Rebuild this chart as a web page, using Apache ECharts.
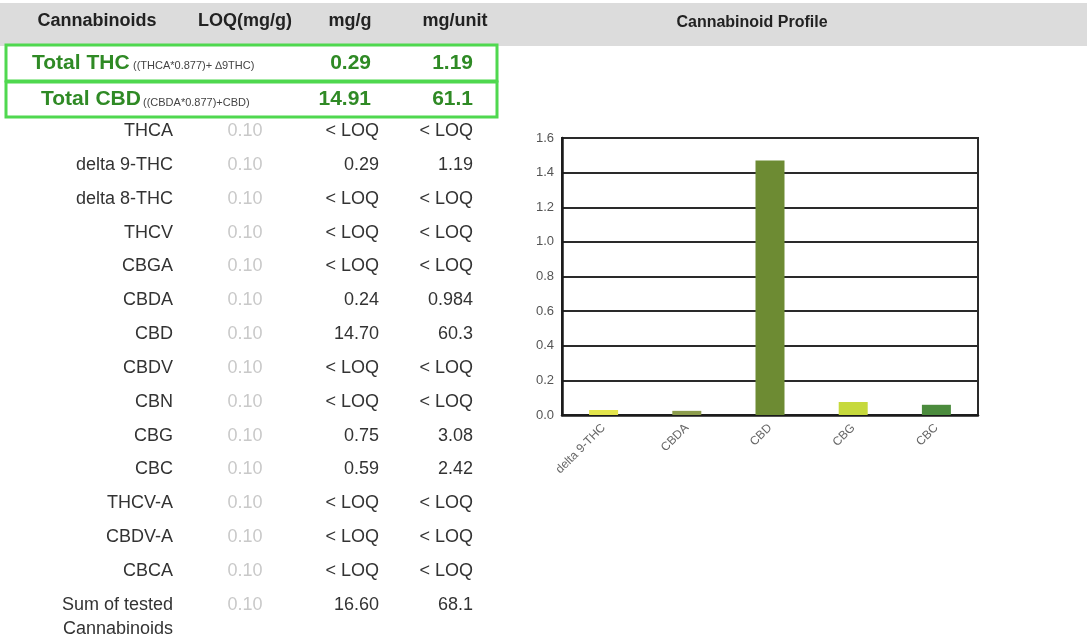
<!DOCTYPE html>
<html>
<head>
<meta charset="utf-8">
<script src="https://cdn.jsdelivr.net/npm/echarts@6/dist/echarts.min.js"></script>
<style>
html,body{margin:0;padding:0;background:#ffffff;}
#chart{width:1087px;height:639px;}
</style>
</head>
<body>
<div id="chart"></div>
<script>
// ---- Data ----
const headerLabels = ['Cannabinoids', 'LOQ(mg/g)', 'mg/g', 'mg/unit'];
const chartTitle = 'Cannabinoid Profile';

const totalNames = ['Total THC', 'Total CBD'];
const totalFormulas = ['((THCA*0.877)+ \u22069THC)', '((CBDA*0.877)+CBD)'];
const totalMgG = ['0.29', '14.91'];
const totalMgUnit = ['1.19', '61.1'];

const rowNames = ['THCA', 'delta 9-THC', 'delta 8-THC', 'THCV', 'CBGA', 'CBDA', 'CBD', 'CBDV', 'CBN', 'CBG', 'CBC', 'THCV-A', 'CBDV-A', 'CBCA', 'Sum of tested\nCannabinoids'];
const rowLoq = ['0.10', '0.10', '0.10', '0.10', '0.10', '0.10', '0.10', '0.10', '0.10', '0.10', '0.10', '0.10', '0.10', '0.10', '0.10'];
const rowMgG = ['< LOQ', '0.29', '< LOQ', '< LOQ', '< LOQ', '0.24', '14.70', '< LOQ', '< LOQ', '0.75', '0.59', '< LOQ', '< LOQ', '< LOQ', '16.60'];
const rowMgUnit = ['< LOQ', '1.19', '< LOQ', '< LOQ', '< LOQ', '0.984', '60.3', '< LOQ', '< LOQ', '3.08', '2.42', '< LOQ', '< LOQ', '< LOQ', '68.1'];

const profileCategories = ['delta 9-THC', 'CBDA', 'CBD', 'CBG', 'CBC'];
const profileValues = [0.029, 0.024, 1.47, 0.075, 0.059];
const profileColors = ['#e4e54c', '#8c9c4c', '#6d8b33', '#c6d93c', '#4b8b3d'];

// ---- Layout / style ----
const FONT = "'Liberation Sans', Arial, sans-serif";
const GREEN_TEXT = '#2f8a25';
const GREEN_BOX = '#4fd84f';
const graphics = [];

// header band
graphics.push({ type: 'rect', z: 0, shape: { x: 0, y: 3, width: 1087, height: 43 }, style: { fill: '#dcdcdc' } });
const headerX = [97, 245, 350, 455];
headerLabels.forEach((t, i) => {
  graphics.push({ type: 'text', z: 5, x: headerX[i], y: 21, style: { text: t, font: 'bold 18px ' + FONT, fill: '#222', align: 'center', verticalAlign: 'middle' } });
});
graphics.push({ type: 'text', z: 5, x: 752, y: 23, style: { text: chartTitle, font: 'bold 16px ' + FONT, fill: '#222', align: 'center', verticalAlign: 'middle' } });

// totals boxes
const boxTop = [45, 82];
const boxH = [36, 35];
const nameX = [32, 41];
const formulaX = [133, 143];
totalNames.forEach((n, i) => {
  const cy = boxTop[i] + boxH[i] / 2;
  graphics.push({ type: 'rect', z: 4, shape: { x: 6, y: boxTop[i], width: 491, height: boxH[i] }, style: { fill: '#ffffff', stroke: GREEN_BOX, lineWidth: 3 } });
  graphics.push({ type: 'text', z: 5, x: nameX[i], y: cy, style: { text: n, font: 'bold 21px ' + FONT, fill: GREEN_TEXT, align: 'left', verticalAlign: 'middle' } });
  graphics.push({ type: 'text', z: 5, x: formulaX[i], y: cy + 3, style: { text: totalFormulas[i], font: '11px ' + FONT, fill: '#444', align: 'left', verticalAlign: 'middle' } });
  graphics.push({ type: 'text', z: 5, x: 371, y: cy, style: { text: totalMgG[i], font: 'bold 21px ' + FONT, fill: GREEN_TEXT, align: 'right', verticalAlign: 'middle' } });
  graphics.push({ type: 'text', z: 5, x: 473, y: cy, style: { text: totalMgUnit[i], font: 'bold 21px ' + FONT, fill: GREEN_TEXT, align: 'right', verticalAlign: 'middle' } });
});

// rows
rowNames.forEach((n, i) => {
  const cy = 131 + i * 33.85;
  const multi = n.indexOf('\n') >= 0;
  graphics.push({ type: 'text', z: 5, x: 173, y: multi ? cy + 12 : cy, style: { text: n, font: '18px ' + FONT, fill: '#333', align: 'right', verticalAlign: 'middle', lineHeight: 24 } });
  graphics.push({ type: 'text', z: 5, x: 245, y: cy, style: { text: rowLoq[i], font: '18px ' + FONT, fill: '#c9c9c9', align: 'center', verticalAlign: 'middle' } });
  graphics.push({ type: 'text', z: 5, x: 379, y: cy, style: { text: rowMgG[i], font: '18px ' + FONT, fill: '#333', align: 'right', verticalAlign: 'middle' } });
  graphics.push({ type: 'text', z: 5, x: 473, y: cy, style: { text: rowMgUnit[i], font: '18px ' + FONT, fill: '#333', align: 'right', verticalAlign: 'middle' } });
});

const chart = echarts.init(document.getElementById('chart'), null, { renderer: 'canvas' });
chart.setOption({
  animation: false,
  backgroundColor: '#ffffff',
  graphic: graphics,
  grid: { left: 562, top: 138, width: 416, height: 277, show: true, borderColor: '#2a2a2a', borderWidth: 2, backgroundColor: '#ffffff' },
  xAxis: {
    type: 'category',
    data: profileCategories,
    axisLine: { show: true, lineStyle: { color: '#1a1a1a', width: 2.5 } },
    axisTick: { show: false },
    axisLabel: { rotate: 45, fontSize: 12, color: '#666', fontFamily: FONT, margin: 11 }
  },
  yAxis: {
    type: 'value',
    min: 0, max: 1.6, interval: 0.2,
    axisLine: { show: true, lineStyle: { color: '#1a1a1a', width: 2.5 } },
    axisTick: { show: false },
    splitLine: { show: true, lineStyle: { color: '#2a2a2a', width: 2 } },
    axisLabel: { color: '#555', fontSize: 13, fontFamily: FONT, margin: 8, formatter: v => v.toFixed(1) }
  },
  series: [{
    type: 'bar',
    barWidth: 29,
    data: profileValues.map((v, i) => ({ value: v, itemStyle: { color: profileColors[i] } }))
  }]
});
</script>
</body>
</html>
